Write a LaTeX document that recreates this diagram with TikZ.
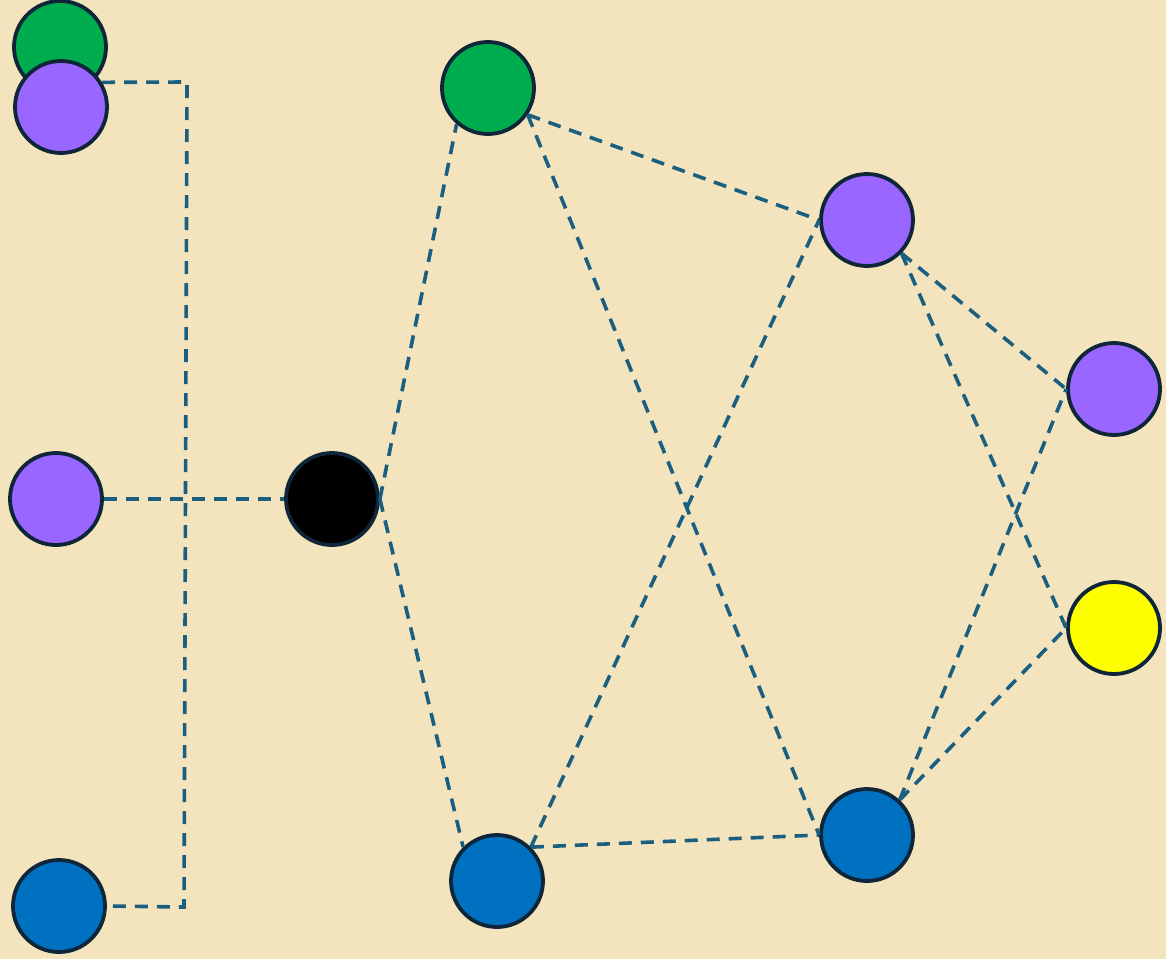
\documentclass[tikz,border=0pt]{standalone}
\begin{document}
\begin{tikzpicture}[x=1pt,y=-1pt,
  ball/.style={circle,draw=ballline,line width=3.8pt,minimum size=92pt,inner sep=0pt},
  link/.style={draw=linkc,line width=3.6pt,dash pattern=on 13pt off 9pt}]
\definecolor{bg}{HTML}{F4E4BE}
\definecolor{ballline}{HTML}{0E2638}
\definecolor{linkc}{HTML}{1B5F80}
\definecolor{cgreen}{HTML}{00AD4E}
\definecolor{cpurple}{HTML}{9966FF}
\definecolor{cblue}{HTML}{0070C0}
\definecolor{cyellow}{HTML}{FFFF00}
\fill[bg] (0,0) rectangle (1166,959);
\useasboundingbox (0,0) rectangle (1166,959);
% nodes
\node[ball,fill=cgreen] (A) at (60,47) {};
\node[ball,fill=cpurple] (B) at (61,107) {};
\node[ball,fill=cpurple] (C) at (56,499) {};
\node[ball,fill=cblue] (D) at (59,906) {};
\node[ball,fill=black] (E) at (332,499) {};
\node[ball,fill=cgreen] (F) at (488,88) {};
\node[ball,fill=cblue] (G) at (497,881) {};
\node[ball,fill=cpurple] (H) at (867,220) {};
\node[ball,fill=cblue] (I) at (867,835) {};
\node[ball,fill=cpurple] (J) at (1114,389) {};
\node[ball,fill=cyellow] (K) at (1114,628) {};
\coordinate (c1) at (187,82);
\coordinate (c2) at (184,907);
% connectors
\path[link] (B.31) -- (c1) -- (c2) -- (D.east);
\path[link] (C.east) -- (E.west);
\path[link] (E.east) -- (F.229);
\path[link] (E.east) -- (G.135);
\path[link] (F.-34) -- (H.west);
\path[link] (F.-34) -- (I.west);
\path[link] (G.45) -- (H.west);
\path[link] (G.45) -- (I.west);
\path[link] (H.-44) -- (J.west);
\path[link] (H.-44) -- (K.west);
\path[link] (I.47) -- (J.west);
\path[link] (I.47) -- (K.west);
\end{tikzpicture}
\end{document}
